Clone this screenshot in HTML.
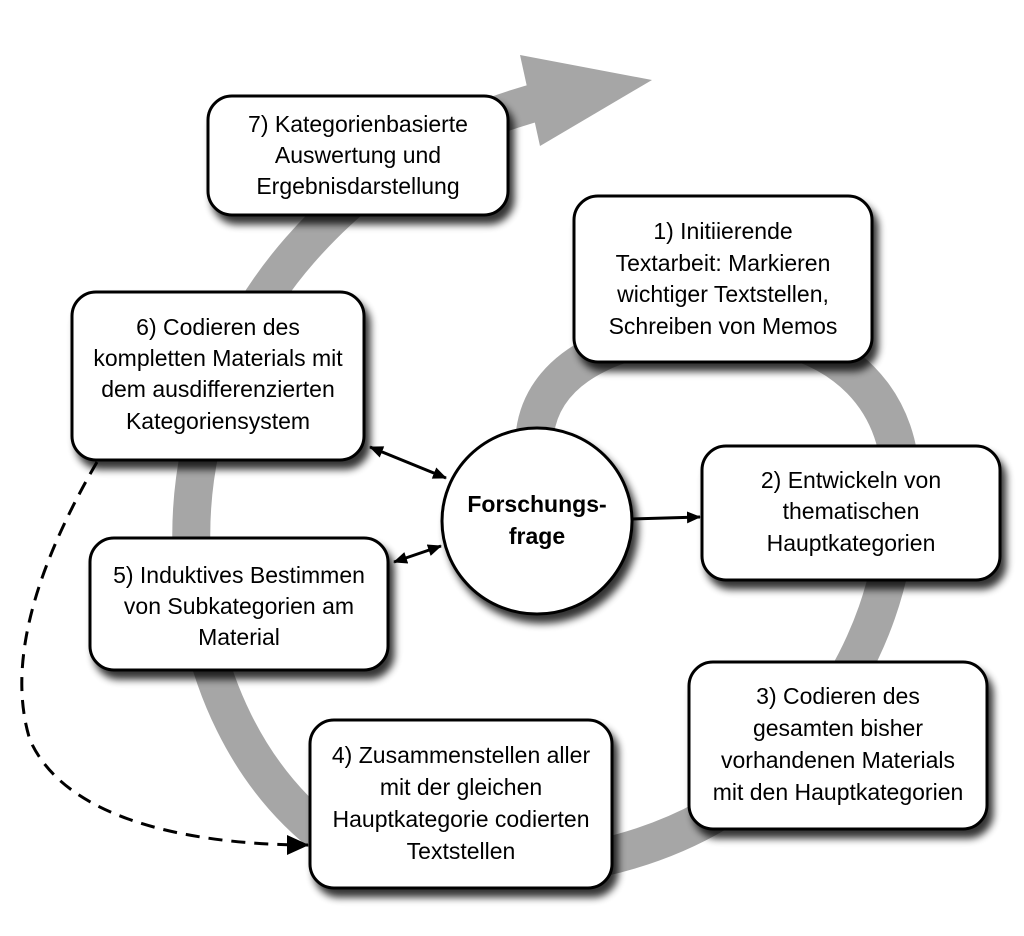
<!DOCTYPE html>
<html><head><meta charset="utf-8"><style>
html,body{margin:0;padding:0;background:#fff;}
svg{display:block;}
text{font-family:"Liberation Sans Narrow","Liberation Sans",sans-serif;font-size:23px;fill:#000;text-anchor:middle;}
</style></head><body>
<svg width="1024" height="936" viewBox="0 0 1024 936" xmlns="http://www.w3.org/2000/svg">
<defs>
<filter id="sh" x="-10%" y="-10%" width="130%" height="140%">
<feGaussianBlur in="SourceAlpha" stdDeviation="4"/>
<feOffset dx="5" dy="8" result="b"/>
<feComponentTransfer><feFuncA type="linear" slope="0.8"/></feComponentTransfer>
<feMerge><feMergeNode/><feMergeNode in="SourceGraphic"/></feMerge>
</filter>
<marker id="ah2" markerWidth="14" markerHeight="14" refX="13" refY="7" orient="auto-start-reverse" markerUnits="userSpaceOnUse"><path d="M0,1 L14,7 L0,13 z" fill="#000"/></marker>
<marker id="ah3" markerWidth="22" markerHeight="20" refX="21" refY="10" orient="auto" markerUnits="userSpaceOnUse"><path d="M0,0 L22,10 L0,20 z" fill="#000"/></marker>
</defs>
<path d="M 535 432 C 545 360, 630 330, 720 330 C 850 330, 905 410, 900 490 C 895 580, 870 650, 820 720 C 760 800, 680 840, 600 858 L 330 840 C 250 780, 200 680, 192 560 C 185 440, 230 330, 300 250 C 370 170, 450 125, 545 100" fill="none" stroke="#a6a6a6" stroke-width="38"/>
<polygon points="520,55 652,80 540,146" fill="#a6a6a6"/>
<path d="M 97 462 C 40 560, 5 660, 30 740 C 70 830, 220 845, 308 845" fill="none" stroke="#000" stroke-width="3" stroke-dasharray="14,9" marker-end="url(#ah3)"/>
<line x1="370" y1="447" x2="446" y2="478" stroke="#000" stroke-width="3" marker-start="url(#ah2)" marker-end="url(#ah2)"/>
<line x1="394" y1="562" x2="441" y2="546" stroke="#000" stroke-width="3" marker-start="url(#ah2)" marker-end="url(#ah2)"/>
<line x1="632" y1="519" x2="700" y2="517" stroke="#000" stroke-width="3" marker-end="url(#ah2)"/>
<g filter="url(#sh)" fill="#fff" stroke="#000" stroke-width="3">
<rect x="208" y="96" width="300" height="119" rx="24"/>
<rect x="574" y="196" width="298" height="166" rx="24"/>
<rect x="72" y="292" width="292" height="168" rx="24"/>
<rect x="702" y="446" width="298" height="134" rx="24"/>
<rect x="90" y="538" width="298" height="132" rx="24"/>
<rect x="689" y="662" width="298" height="167" rx="24"/>
<rect x="310" y="720" width="302" height="168" rx="24"/>
<ellipse cx="537" cy="521" rx="95" ry="93"/>
</g>
<text x="358" y="132">7) Kategorienbasierte</text>
<text x="358" y="163">Auswertung und</text>
<text x="358" y="194">Ergebnisdarstellung</text>
<text x="723" y="239">1) Initiierende</text>
<text x="723" y="271">Textarbeit: Markieren</text>
<text x="723" y="302">wichtiger Textstellen,</text>
<text x="723" y="334">Schreiben von Memos</text>
<text x="218" y="335">6) Codieren des</text>
<text x="218" y="366">kompletten Materials mit</text>
<text x="218" y="397">dem ausdifferenzierten</text>
<text x="218" y="429">Kategoriensystem</text>
<text x="537" y="512" style="font-weight:bold">Forschungs-</text>
<text x="537" y="544" style="font-weight:bold">frage</text>
<text x="851" y="488">2) Entwickeln von</text>
<text x="851" y="519">thematischen</text>
<text x="851" y="551">Hauptkategorien</text>
<text x="239" y="583">5) Induktives Bestimmen</text>
<text x="239" y="614">von Subkategorien am</text>
<text x="239" y="645">Material</text>
<text x="838" y="704">3) Codieren des</text>
<text x="838" y="736">gesamten bisher</text>
<text x="838" y="768">vorhandenen Materials</text>
<text x="838" y="800">mit den Hauptkategorien</text>
<text x="461" y="763">4) Zusammenstellen aller</text>
<text x="461" y="795">mit der gleichen</text>
<text x="461" y="827">Hauptkategorie codierten</text>
<text x="461" y="859">Textstellen</text>
</svg>
</body></html>
